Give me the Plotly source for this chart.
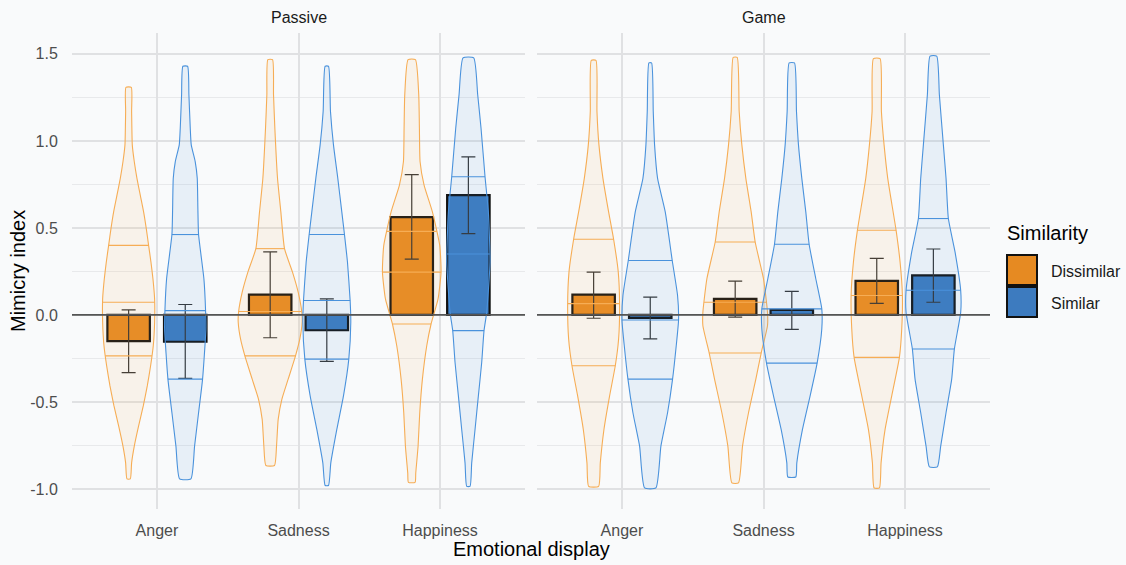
import numpy as np
import plotly.graph_objects as go

# ---------------- data ----------------
categories = ["Anger", "Sadness", "Happiness"]
panels = ["Passive", "Game"]
groups = ["Dissimilar", "Similar"]
y_tick_vals = [-1.0, -0.5, 0.0, 0.5, 1.0, 1.5]
y_tick_text = ["-1.0", "-0.5", "0.0", "0.5", "1.0", "1.5"]

# bar means and interval limits (Passive / Game x Dissimilar / Similar)
passive_dissimilar_mean = [-0.150, 0.117, 0.562]
passive_dissimilar_low = [-0.331, -0.131, 0.321]
passive_dissimilar_high = [0.029, 0.362, 0.806]
passive_similar_mean = [-0.154, -0.088, 0.688]
passive_similar_low = [-0.365, -0.267, 0.467]
passive_similar_high = [0.060, 0.092, 0.908]
game_dissimilar_mean = [0.117, 0.092, 0.196]
game_dissimilar_low = [-0.019, -0.013, 0.067]
game_dissimilar_high = [0.246, 0.194, 0.325]
game_similar_mean = [-0.017, 0.029, 0.227]
game_similar_low = [-0.138, -0.083, 0.073]
game_similar_high = [0.102, 0.135, 0.379]

# violin outlines: y levels (top -> bottom) and relative density (half width)
vio_passive_anger_dis_y = [1.308, 1.169, 0.977, 0.880, 0.785, 0.688, 0.592, 0.496, 0.400, 0.304, 0.208, 0.092, -0.042, -0.177, -0.292, -0.408, -0.523, -0.638, -0.754, -0.850, -0.942]
vio_passive_anger_dis_d = [8, 9, 11, 17, 25, 35, 45, 53, 60, 67, 73, 78, 78, 74, 66, 56, 44, 30, 17, 9, 5]
vio_passive_anger_sim_y = [1.429, 1.265, 1.073, 0.977, 0.880, 0.785, 0.600, 0.462, 0.208, 0.025, -0.080, -0.369, -0.562, -0.754, -0.942]
vio_passive_anger_sim_d = [7, 11, 15, 18, 30, 36, 38, 40, 56, 61, 62, 52, 40, 28, 17]
vio_passive_sadness_dis_y = [1.467, 1.265, 1.073, 0.785, 0.592, 0.381, 0.246, 0.131, 0.015, -0.042, -0.138, -0.235, -0.369, -0.485, -0.600, -0.754, -0.865]
vio_passive_sadness_dis_d = [7, 10, 14, 22, 32, 43, 67, 84, 95, 96, 89, 76, 54, 35, 24, 19, 13]
vio_passive_sadness_sim_y = [1.429, 1.169, 0.977, 0.785, 0.592, 0.462, 0.304, 0.083, -0.042, -0.254, -0.465, -0.658, -0.850, -0.980]
vio_passive_sadness_sim_d = [5, 11, 20, 33, 45, 53, 62, 70, 72, 66, 50, 30, 12, 5]
vio_passive_happiness_dis_y = [1.467, 1.265, 1.073, 0.880, 0.746, 0.592, 0.400, 0.246, 0.092, -0.052, -0.177, -0.369, -0.562, -0.754, -0.908, -0.962]
vio_passive_happiness_dis_d = [11, 21, 23, 25, 37, 62, 84, 88, 79, 58, 45, 32, 24, 19, 12, 10]
vio_passive_happiness_sim_y = [1.477, 1.265, 1.073, 0.794, 0.592, 0.304, 0.015, -0.090, -0.273, -0.465, -0.658, -0.850, -0.985]
vio_passive_happiness_sim_d = [16, 28, 38, 50, 60, 65, 55, 47, 40, 30, 20, 10, 5]
vio_game_anger_dis_y = [1.463, 1.169, 0.977, 0.785, 0.592, 0.435, 0.246, 0.054, -0.138, -0.292, -0.465, -0.658, -0.850, -0.985]
vio_game_anger_dis_d = [7, 10, 16, 28, 45, 60, 74, 78, 75, 65, 48, 31, 20, 15]
vio_game_anger_sim_y = [1.448, 1.169, 0.977, 0.785, 0.592, 0.313, 0.112, -0.029, -0.177, -0.369, -0.562, -0.754, -0.994]
vio_game_anger_sim_d = [4, 9, 13, 22, 45, 66, 82, 85, 78, 67, 52, 32, 17]
vio_game_sadness_dis_y = [1.480, 1.169, 0.977, 0.785, 0.592, 0.419, 0.208, 0.015, -0.062, -0.219, -0.369, -0.562, -0.754, -0.965]
vio_game_sadness_dis_d = [6, 12, 20, 32, 48, 60, 85, 97, 97, 78, 62, 40, 22, 10]
vio_game_sadness_sim_y = [1.448, 1.169, 0.977, 0.785, 0.592, 0.406, 0.208, 0.035, -0.081, -0.277, -0.465, -0.658, -0.850, -0.931]
vio_game_sadness_sim_d = [8, 14, 20, 30, 42, 52, 72, 90, 90, 76, 55, 32, 15, 12]
vio_game_happiness_dis_y = [1.473, 1.169, 0.977, 0.785, 0.487, 0.304, 0.112, -0.081, -0.244, -0.465, -0.658, -0.850, -0.994]
vio_game_happiness_dis_d = [10, 14, 22, 33, 58, 70, 77, 75, 68, 45, 25, 13, 8]
vio_game_happiness_sim_y = [1.487, 1.265, 0.977, 0.785, 0.554, 0.362, 0.140, 0.015, -0.196, -0.369, -0.562, -0.754, -0.873]
vio_game_happiness_sim_d = [10, 18, 30, 38, 45, 65, 82, 82, 63, 55, 38, 22, 12]

# quartiles (25%, 50%, 75%) per violin
q_passive_dissimilar = [[-0.235, 0.073, 0.400], [-0.235, 0.020, 0.381], [-0.052, 0.246, 0.480]]
q_passive_similar = [[-0.369, 0.025, 0.462], [-0.254, 0.083, 0.462], [-0.090, 0.350, 0.794]]
q_game_dissimilar = [[-0.292, 0.065, 0.435], [-0.219, 0.073, 0.419], [-0.244, 0.112, 0.487]]
q_game_similar = [[-0.369, -0.029, 0.313], [-0.277, 0.035, 0.406], [-0.196, 0.142, 0.554]]

# ---------------- style ----------------
FONT = "Liberation Sans, Arial, sans-serif"
BG = "#f9fafb"
GRID = "#e0e1e3"
GRID_MINOR = "#e8e9eb"
FILL = {"Dissimilar": "#e68a22", "Similar": "#3d7bbf"}
VIO_LINE = {"Dissimilar": "#f6ad55", "Similar": "#4a92dc"}
VIO_FILL = {"Dissimilar": "rgba(246,173,85,0.10)", "Similar": "rgba(74,146,220,0.10)"}
OFFSET = {"Dissimilar": -0.2, "Similar": 0.2}
BAR_WIDTH = 0.3
VIOLIN_SCALE = 1 / 425.0
X_RANGE = [0.4, 3.6]
Y_RANGE = [-1.115, 1.62]

W, H = 1126, 565
L, R, T, B = 72, 136, 33, 56
PW, PH = W - L - R, H - T - B


def px(xp):
    return (xp - L) / PW


def py(yp):
    return (H - B - yp) / PH


violins = {
    ("Passive", "Dissimilar"): [(vio_passive_anger_dis_y, vio_passive_anger_dis_d),
                               (vio_passive_sadness_dis_y, vio_passive_sadness_dis_d),
                               (vio_passive_happiness_dis_y, vio_passive_happiness_dis_d)],
    ("Passive", "Similar"): [(vio_passive_anger_sim_y, vio_passive_anger_sim_d),
                            (vio_passive_sadness_sim_y, vio_passive_sadness_sim_d),
                            (vio_passive_happiness_sim_y, vio_passive_happiness_sim_d)],
    ("Game", "Dissimilar"): [(vio_game_anger_dis_y, vio_game_anger_dis_d),
                            (vio_game_sadness_dis_y, vio_game_sadness_dis_d),
                            (vio_game_happiness_dis_y, vio_game_happiness_dis_d)],
    ("Game", "Similar"): [(vio_game_anger_sim_y, vio_game_anger_sim_d),
                         (vio_game_sadness_sim_y, vio_game_sadness_sim_d),
                         (vio_game_happiness_sim_y, vio_game_happiness_sim_d)],
}
quartiles = {
    ("Passive", "Dissimilar"): q_passive_dissimilar,
    ("Passive", "Similar"): q_passive_similar,
    ("Game", "Dissimilar"): q_game_dissimilar,
    ("Game", "Similar"): q_game_similar,
}
bars = {
    ("Passive", "Dissimilar"): (passive_dissimilar_mean, passive_dissimilar_low, passive_dissimilar_high),
    ("Passive", "Similar"): (passive_similar_mean, passive_similar_low, passive_similar_high),
    ("Game", "Dissimilar"): (game_dissimilar_mean, game_dissimilar_low, game_dissimilar_high),
    ("Game", "Similar"): (game_similar_mean, game_similar_low, game_similar_high),
}
axes = {"Passive": ("x", "y"), "Game": ("x2", "y2")}

fig = go.Figure()
cat_pos = np.arange(1, len(categories) + 1)

# violins
for panel in panels:
    xa, ya = axes[panel]
    for g in groups:
        for i, (yy, dd) in enumerate(violins[(panel, g)]):
            yy = np.array(yy)
            hw = np.array(dd) * VIOLIN_SCALE
            c = cat_pos[i] + OFFSET[g]
            xs = np.concatenate([c + hw, (c - hw)[::-1]])
            ys = np.concatenate([yy, yy[::-1]])
            fig.add_trace(go.Scatter(
                x=np.append(xs, xs[0]), y=np.append(ys, ys[0]), mode="lines",
                fill="toself", fillcolor=VIO_FILL[g],
                line=dict(color=VIO_LINE[g], width=1.1, shape="spline", smoothing=0.5),
                xaxis=xa, yaxis=ya, hoverinfo="skip", showlegend=False))
            qx, qy = [], []
            order = np.argsort(yy)
            for q in quartiles[(panel, g)][i]:
                w = np.interp(q, yy[order], hw[order])
                qx += [c - w, c + w, None]
                qy += [q, q, None]
            fig.add_trace(go.Scatter(
                x=qx, y=qy, mode="lines", line=dict(color=VIO_LINE[g], width=1.1),
                xaxis=xa, yaxis=ya, hoverinfo="skip", showlegend=False))

# zero reference line
for panel in panels:
    xa, ya = axes[panel]
    fig.add_trace(go.Scatter(x=X_RANGE, y=[0, 0], mode="lines",
                             line=dict(color="#555555", width=1.8),
                             xaxis=xa, yaxis=ya, hoverinfo="skip", showlegend=False))

# bars with intervals
for panel in panels:
    xa, ya = axes[panel]
    for g in groups:
        m, lo, hi = (np.array(v) for v in bars[(panel, g)])
        fig.add_trace(go.Bar(
            x=cat_pos + OFFSET[g], y=m, width=BAR_WIDTH,
            marker=dict(color=FILL[g], line=dict(color="#111111", width=2.2)),
            error_y=dict(type="data", symmetric=False, array=hi - m, arrayminus=m - lo,
                         color="#333333", thickness=1.2, width=7),
            xaxis=xa, yaxis=ya, name=g, showlegend=False))

xcommon = dict(range=X_RANGE, tickvals=list(cat_pos), ticktext=categories,
               showgrid=True, gridcolor=GRID, gridwidth=1.5, zeroline=False,
               showline=False, ticks="outside", ticklen=7, tickcolor="rgba(0,0,0,0)",
               tickfont=dict(family=FONT, size=16, color="#4d4d4d"), fixedrange=True)
ycommon = dict(range=Y_RANGE, tickvals=y_tick_vals, ticktext=y_tick_text,
               showgrid=True, gridcolor=GRID, gridwidth=1.5, zeroline=False,
               showline=False, ticks="outside", ticklen=10, tickcolor="rgba(0,0,0,0)",
               minor=dict(dtick=0.25, tick0=0, showgrid=True, gridcolor=GRID_MINOR, gridwidth=1),
               tickfont=dict(family=FONT, size=16, color="#4d4d4d"))

d1 = px(525)
d2 = px(537)
fig.update_layout(
    width=W, height=H, paper_bgcolor=BG, plot_bgcolor=BG,
    margin=dict(l=L, r=R, t=T, b=B), showlegend=False, barmode="overlay",
    xaxis=dict(domain=[0, d1], anchor="y", **xcommon),
    xaxis2=dict(domain=[d2, 1], anchor="y2", **xcommon),
    yaxis=dict(domain=[0, 1], anchor="x", **ycommon),
    yaxis2=dict(domain=[0, 1], anchor="x2", matches="y", showticklabels=False,
                **{k: v for k, v in ycommon.items() if k not in ("tickvals", "ticktext", "tickfont", "range")}),
    font=dict(family=FONT),
)


def label(text, xp, yp, size, color="#1a1a1a", xanchor="center", angle=0):
    return dict(text=text, x=px(xp), y=py(yp), xref="paper", yref="paper",
                xanchor=xanchor, yanchor="middle", textangle=angle, showarrow=False,
                font=dict(size=size, color=color, family=FONT))


ann = [
    label("Passive", (L + 525) / 2, 18, 16),
    label("Game", (537 + W - R) / 2, 18, 16),
    label("Emotional display", (L + W - R) / 2, 549, 20, "#000000"),
    label("Mimicry index", 18, 271, 20, "#000000", angle=-90),
    label("Similarity", 1005, 233, 20, "#000000", xanchor="left"),
]
shapes = []
key_top = [255, 287]
for g, kt in zip(groups, key_top):
    shapes.append(dict(type="rect", xref="paper", yref="paper",
                       x0=px(1007), x1=px(1037), y0=py(kt), y1=py(kt + 30),
                       fillcolor=FILL[g], line=dict(color="#111111", width=2)))
    ann.append(label(g, 1049, kt + 16, 16, xanchor="left"))
fig.update_layout(annotations=ann, shapes=shapes)

fig.write_html("out.html", config={"displayModeBar": False},
               post_script="document.body.style.margin='0px';document.body.style.overflow='hidden';")
